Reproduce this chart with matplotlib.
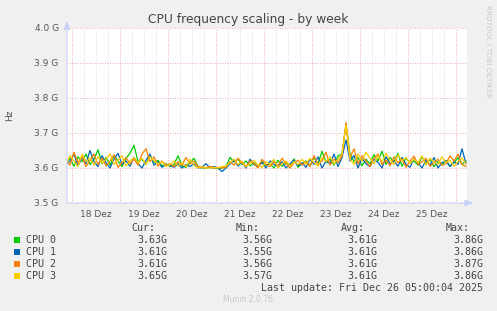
import numpy as np
import matplotlib
matplotlib.use("Agg")
import matplotlib.pyplot as plt

# hours relative to 18 Dez 00:00, one sample every 2 hours
hours = np.arange(-3, 198, 2)

# CPU frequencies in MHz
cpu0 = [3615, 3628, 3605, 3632, 3618, 3640, 3610, 3625, 3652, 3612, 3630, 3608, 3636, 3620, 3604, 3628, 3642, 3665, 3618, 3625, 3610, 3635, 3615, 3622, 3606, 3612,
        3604, 3610, 3635, 3606, 3602, 3615, 3628, 3604, 3600, 3600, 3602, 3600, 3598, 3600,
        3604, 3630, 3618, 3625, 3610, 3620, 3606, 3615, 3602, 3618, 3608, 3612, 3600, 3622, 3605, 3615, 3608, 3626, 3602, 3612,
        3620, 3606, 3630, 3612, 3648, 3615, 3625, 3608, 3635, 3640,
        3725,
        3640, 3618, 3630, 3606, 3625, 3612, 3638, 3620, 3648, 3610, 3630, 3618, 3642, 3605, 3628, 3615, 3620, 3608, 3632, 3612, 3625, 3604, 3618, 3610, 3622, 3606, 3615, 3630, 3610, 3620]
cpu1 = [3610, 3620, 3640, 3606, 3630, 3612, 3650, 3618, 3604, 3635, 3615, 3600, 3625, 3642, 3610, 3620, 3605, 3630, 3612, 3600, 3622, 3640, 3608, 3618, 3602, 3610,
        3608, 3602, 3612, 3600, 3610, 3604, 3612, 3600, 3602, 3612, 3600, 3604, 3600, 3590,
        3600, 3612, 3622, 3606, 3618, 3600, 3625, 3610, 3604, 3616, 3600, 3620, 3610, 3604, 3618, 3600, 3612, 3622, 3606, 3615,
        3602, 3625, 3610, 3632, 3600, 3620, 3612, 3640, 3604, 3630,
        3680,
        3620, 3636, 3600, 3628, 3612, 3604, 3625, 3616, 3600, 3632, 3612, 3620, 3605, 3630, 3610, 3602, 3626, 3615, 3600, 3622, 3608, 3630, 3600, 3615, 3620, 3604, 3618, 3610, 3655, 3612]
cpu2 = [3625, 3608, 3645, 3615, 3632, 3604, 3622, 3640, 3610, 3628, 3606, 3620, 3638, 3602, 3615, 3630, 3612, 3626, 3608, 3640, 3655, 3618, 3632, 3605, 3620, 3608,
        3612, 3604, 3618, 3608, 3630, 3612, 3620, 3604, 3602, 3600, 3605, 3600, 3602, 3600,
        3602, 3618, 3608, 3628, 3614, 3604, 3620, 3612, 3600, 3625, 3610, 3604, 3618, 3606, 3628, 3612, 3600, 3615, 3622, 3608,
        3618, 3604, 3635, 3610, 3620, 3645, 3608, 3625, 3615, 3635,
        3730,
        3630, 3655, 3612, 3635, 3620, 3604, 3628, 3640, 3610, 3622, 3606, 3632, 3615, 3625, 3602, 3620, 3634, 3610, 3618, 3628, 3605, 3615, 3625, 3608, 3612, 3635, 3620, 3640, 3610, 3604]
cpu3 = [3612, 3635, 3620, 3604, 3640, 3618, 3628, 3608, 3632, 3614, 3625, 3640, 3610, 3622, 3635, 3606, 3620, 3630, 3615, 3628, 3610, 3632, 3620, 3612, 3618, 3604,
        3610, 3620, 3606, 3615, 3604, 3625, 3608, 3600, 3604, 3600, 3600, 3602, 3600, 3604,
        3606, 3615, 3625, 3610, 3620, 3604, 3612, 3622, 3608, 3602, 3618, 3610, 3625, 3600, 3612, 3620, 3606, 3618, 3610, 3625,
        3610, 3628, 3615, 3605, 3630, 3618, 3632, 3612, 3625, 3640,
        3722,
        3625, 3610, 3640, 3620, 3645, 3628, 3612, 3635, 3618, 3642, 3622, 3610, 3638, 3620, 3630, 3612, 3625, 3615, 3635, 3608, 3628, 3618, 3610, 3632, 3615, 3622, 3605, 3618, 3628, 3612]

series_names = ["CPU 0", "CPU 1", "CPU 2", "CPU 3"]
series_colors = ["#00CC00", "#0066B3", "#FF8000", "#FFCC00"]
cur_vals = ["3.63G", "3.61G", "3.61G", "3.65G"]
min_vals = ["3.56G", "3.55G", "3.56G", "3.57G"]
avg_vals = ["3.61G", "3.61G", "3.61G", "3.61G"]
max_vals = ["3.86G", "3.86G", "3.87G", "3.86G"]

day_labels = ["18 Dez", "19 Dez", "20 Dez", "21 Dez", "22 Dez", "23 Dez", "24 Dez", "25 Dez"]
y_ticks = [3.5e9, 3.6e9, 3.7e9, 3.8e9, 3.9e9, 4.0e9]
y_labels = ["3.5 G", "3.6 G", "3.7 G", "3.8 G", "3.9 G", "4.0 G"]

W, H = 497, 311
BG = "#F0F0F0"
TXT = "#555555"


def fx(px):
    return px / W


def fy(py):
    return 1 - py / H


fig = plt.figure(figsize=(W / 100, H / 100), dpi=100, facecolor=BG)
ax = fig.add_axes([fx(67), fy(203), fx(467) - fx(67), (203 - 28) / H])
ax.set_facecolor("white")

x0, x1 = -2.5, 197.5
ax.set_xlim(x0, x1)
ax.set_ylim(3.5e9, 4.0e9)

# grid: gray every 6 h, red at midnight and every 0.1 G
for h in range(0, 198, 6):
    if h % 24 == 0:
        ax.axvline(h, color="#F09090", lw=0.6, ls=(0, (1, 2)), zorder=1)
    else:
        ax.axvline(h, color="#D0D0D0", lw=0.6, ls=(0, (1, 2)), zorder=1)
for v in y_ticks[1:]:
    ax.axhline(v, color="#F09090", lw=0.6, ls=(0, (1, 2)), zorder=1)

for vals, col in zip([cpu0, cpu1, cpu2, cpu3], series_colors):
    ax.plot(hours, np.array(vals) * 1e6, color=col, lw=0.9, zorder=3)

for s in ax.spines.values():
    s.set_visible(False)

ax.set_xticks(np.arange(12, 24 * len(day_labels), 24))
ax.set_xticklabels(day_labels)
ax.set_yticks(y_ticks)
ax.set_yticklabels(y_labels)
ax.tick_params(axis="both", length=0, labelsize=6.5, colors=TXT)
ax.tick_params(axis="x", pad=5)
ax.tick_params(axis="y", pad=6)

# axis lines with arrows
acol = "#C8D0F8"
ax.annotate("", xy=(1.016, 0), xytext=(0, 0), xycoords="axes fraction",
            arrowprops=dict(arrowstyle="-|>,head_length=0.5,head_width=0.2", color=acol, lw=0.8, shrinkA=0, shrinkB=0))
ax.annotate("", xy=(0, 1.04), xytext=(0, 0), xycoords="axes fraction",
            arrowprops=dict(arrowstyle="-|>,head_length=0.5,head_width=0.2", color=acol, lw=0.8, shrinkA=0, shrinkB=0))

fig.text(fx(248), fy(19), "CPU frequency scaling - by week", ha="center", va="center",
         fontsize=8.8, color="#444444")
fig.text(fx(10), fy(115), "Hz", ha="center", va="center", rotation=90, fontsize=6.5, color=TXT)
fig.text(fx(488), fy(5), "RRDTOOL / TOBI OETIKER", ha="center", va="top", rotation=270,
         fontsize=5.2, color="#C8C8C8")

mono = dict(family="DejaVu Sans Mono", fontsize=7.2, color="#444444", va="center")
fig.text(fx(155), fy(228), "Cur:", ha="right", **mono)
fig.text(fx(260), fy(228), "Min:", ha="right", **mono)
fig.text(fx(365), fy(228), "Avg:", ha="right", **mono)
fig.text(fx(470), fy(228), "Max:", ha="right", **mono)

for i, name in enumerate(series_names):
    yy = 240 + 12 * i
    fig.patches.append(plt.Rectangle((fx(14), fy(yy + 3)), 6 / W, 6 / H, transform=fig.transFigure,
                                     facecolor=series_colors[i], edgecolor="none"))
    fig.text(fx(26), fy(yy), name, ha="left", **mono)
    fig.text(fx(167), fy(yy), cur_vals[i], ha="right", **mono)
    fig.text(fx(272), fy(yy), min_vals[i], ha="right", **mono)
    fig.text(fx(377), fy(yy), avg_vals[i], ha="right", **mono)
    fig.text(fx(483), fy(yy), max_vals[i], ha="right", **mono)

fig.text(fx(483), fy(288), "Last update: Fri Dec 26 05:00:04 2025", ha="right", **mono)
fig.text(fx(248), fy(300), "Munin 2.0.76", ha="center", va="center", fontsize=5.5, color="#C8C8C8")

fig.savefig("out.png", dpi=100, facecolor=BG)
